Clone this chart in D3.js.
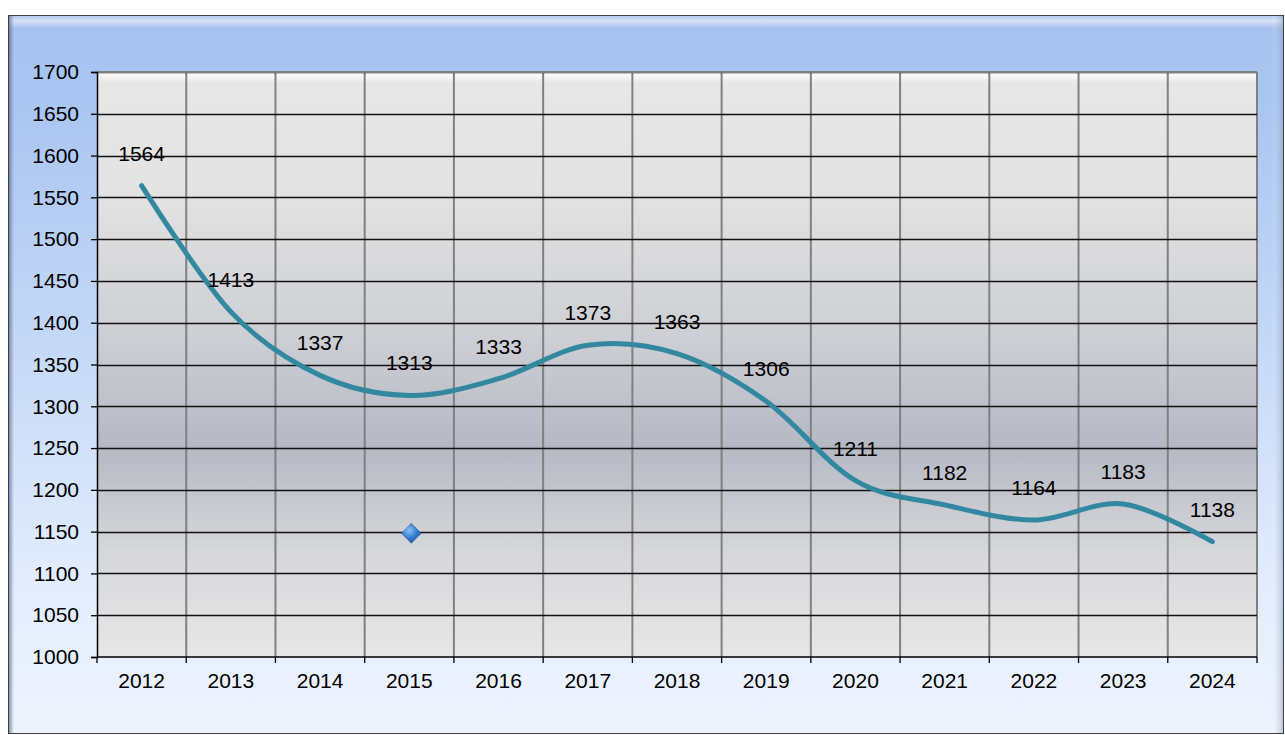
<!DOCTYPE html>
<html>
<head>
<meta charset="utf-8">
<script src="https://cdn.jsdelivr.net/npm/d3@7"></script>
<style>
  body { margin: 0; background: #ffffff; }
  svg text { font-family: "Liberation Sans", Arial, sans-serif; }
</style>
</head>
<body>
<svg id="chart" width="1285" height="735"></svg>
<script>
// données
let annees = ["2012", "2013", "2014", "2015", "2016", "2017", "2018", "2019", "2020", "2021", "2022", "2023", "2024"];
let valeurs = [1564, 1413, 1337, 1313, 1333, 1373, 1363, 1306, 1211, 1182, 1164, 1183, 1138];
let graduations = [1000, 1050, 1100, 1150, 1200, 1250, 1300, 1350, 1400, 1450, 1500, 1550, 1600, 1650, 1700];
// petit losange isolé (reste de légende)
let losange = { annee: "2015", valeur: 1148 };

let svg = d3.select("#chart");
let defs = svg.append("defs");

let zone = { gauche: 97, droite: 1257, haut: 72, bas: 657 };
let taillePolice = "21px";

// dégradé du cadre
let gradCadre = defs.append("linearGradient").attr("id", "gradCadre")
    .attr("x1", 0).attr("y1", 0).attr("x2", 0).attr("y2", 1);
[[0, "#a6c2ef"], [0.12, "#a9c5f1"], [0.45, "#c4d8f7"], [0.8, "#e3edfd"], [1, "#eef4fe"]]
    .forEach(s => gradCadre.append("stop").attr("offset", s[0]).attr("stop-color", s[1]));

let gradReflet = defs.append("linearGradient").attr("id", "gradReflet")
    .attr("x1", 0).attr("y1", 0).attr("x2", 0).attr("y2", 1);
gradReflet.append("stop").attr("offset", 0).attr("stop-color", "#ffffff").attr("stop-opacity", 0.15);
gradReflet.append("stop").attr("offset", 0.4).attr("stop-color", "#ffffff").attr("stop-opacity", 0.55);
gradReflet.append("stop").attr("offset", 1).attr("stop-color", "#ffffff").attr("stop-opacity", 0);

let gradBordG = defs.append("linearGradient").attr("id", "gradBordG")
    .attr("x1", 0).attr("y1", 0).attr("x2", 1).attr("y2", 0);
gradBordG.append("stop").attr("offset", 0).attr("stop-color", "#5a6a88").attr("stop-opacity", 0.7);
gradBordG.append("stop").attr("offset", 1).attr("stop-color", "#5a6a88").attr("stop-opacity", 0);

let gradBordD = defs.append("linearGradient").attr("id", "gradBordD")
    .attr("x1", 0).attr("y1", 0).attr("x2", 1).attr("y2", 0);
gradBordD.append("stop").attr("offset", 0).attr("stop-color", "#ffffff").attr("stop-opacity", 0);
gradBordD.append("stop").attr("offset", 1).attr("stop-color", "#7d8fb0").attr("stop-opacity", 0.45);

// dégradé de la zone de traçage
let gradZone = defs.append("linearGradient").attr("id", "gradZone")
    .attr("x1", 0).attr("y1", 0).attr("x2", 0).attr("y2", 1);
[[0, "#ffffff"], [0.008, "#f6f6f6"], [0.018, "#e7e7e7"], [0.2, "#e3e3e3"], [0.45, "#cdcfd4"],
 [0.64, "#b5b9c3"], [0.82, "#d6d7da"], [1, "#e7e7e7"]]
    .forEach(s => gradZone.append("stop").attr("offset", s[0]).attr("stop-color", s[1]));

let gradLosange = defs.append("radialGradient").attr("id", "gradLosange")
    .attr("cx", 0.4).attr("cy", 0.35).attr("r", 0.7);
gradLosange.append("stop").attr("offset", 0).attr("stop-color", "#8cc4f5");
gradLosange.append("stop").attr("offset", 0.5).attr("stop-color", "#3a82d2");
gradLosange.append("stop").attr("offset", 1).attr("stop-color", "#1d4f96");

// cadre
svg.append("rect")
    .attr("x", 8.5).attr("y", 15.5).attr("width", 1275).attr("height", 718)
    .attr("fill", "url(#gradCadre)")
    .attr("stroke", "#3c3f48").attr("stroke-width", 1);
svg.append("rect")
    .attr("x", 9).attr("y", 16).attr("width", 1274).attr("height", 12)
    .attr("fill", "url(#gradReflet)");
svg.append("rect")
    .attr("x", 9).attr("y", 16).attr("width", 5).attr("height", 717)
    .attr("fill", "url(#gradBordG)");
svg.append("rect")
    .attr("x", 1271).attr("y", 16).attr("width", 12).attr("height", 717)
    .attr("fill", "url(#gradBordD)");

// échelles
let x = d3.scaleBand().domain(annees).range([zone.gauche, zone.droite]).padding(0);
let y = d3.scaleLinear().domain([1000, 1700]).range([zone.bas, zone.haut]);

svg.append("rect")
    .attr("x", zone.gauche).attr("y", zone.haut)
    .attr("width", zone.droite - zone.gauche).attr("height", zone.bas - zone.haut)
    .attr("fill", "url(#gradZone)");

// lignes verticales (gris)
let bords = annees.map(a => x(a)).concat([zone.droite]);
svg.append("g").selectAll("line")
    .data(bords.slice(1))
    .join("line")
    .attr("x1", d => d).attr("x2", d => d)
    .attr("y1", zone.haut).attr("y2", zone.bas)
    .attr("stroke", "#808080").attr("stroke-width", 2);

// lignes horizontales (noir)
svg.append("g").selectAll("line")
    .data(graduations.slice(1))
    .join("line")
    .attr("x1", zone.gauche).attr("x2", zone.droite)
    .attr("y1", d => Math.round(y(d)) + 0.5).attr("y2", d => Math.round(y(d)) + 0.5)
    .attr("stroke", "#111111").attr("stroke-width", 1.5);

// bord haut de la zone
svg.append("line")
    .attr("x1", zone.gauche).attr("x2", zone.droite)
    .attr("y1", zone.haut).attr("y2", zone.haut)
    .attr("stroke", "#808080").attr("stroke-width", 2);

// axe vertical
let axeY = svg.append("g").attr("transform", `translate(${zone.gauche},0)`)
    .call(d3.axisLeft(y).tickValues(graduations).tickSize(6).tickPadding(12).tickFormat(d3.format("d")));
axeY.select(".domain").attr("stroke", "#000").attr("stroke-width", 1.5);
axeY.selectAll(".tick line").attr("stroke", "#000").attr("stroke-width", 1.3);
axeY.selectAll("text").attr("font-size", taillePolice).attr("fill", "#000")
    .attr("font-family", "'Liberation Sans', Arial, sans-serif");

// axe horizontal
let axeX = svg.append("g").attr("transform", `translate(0,${zone.bas})`);
axeX.append("line")
    .attr("x1", zone.gauche).attr("x2", zone.droite)
    .attr("y1", 0).attr("y2", 0)
    .attr("stroke", "#000").attr("stroke-width", 1.5);
axeX.selectAll(".tiret")
    .data(bords)
    .join("line")
    .attr("class", "tiret")
    .attr("x1", d => d).attr("x2", d => d)
    .attr("y1", 0).attr("y2", 6)
    .attr("stroke", "#000").attr("stroke-width", 1.3);
axeX.selectAll("text")
    .data(annees)
    .join("text")
    .attr("x", d => x(d) + x.bandwidth() / 2)
    .attr("y", 31)
    .attr("text-anchor", "middle")
    .attr("font-size", taillePolice)
    .attr("fill", "#000")
    .text(d => d);

// courbe lissée
let points = annees.map((a, i) => ({ annee: a, valeur: valeurs[i] }));
let ligne = d3.line()
    .x(d => x(d.annee) + x.bandwidth() / 2)
    .y(d => y(d.valeur))
    .curve(d3.curveCardinal.tension(0));

svg.append("path")
    .datum(points)
    .attr("d", ligne)
    .attr("fill", "none")
    .attr("stroke", "#3388a0")
    .attr("stroke-width", 5)
    .attr("stroke-linecap", "round")
    .attr("stroke-linejoin", "round");

// étiquettes de valeurs
svg.append("g").selectAll("text")
    .data(points)
    .join("text")
    .attr("x", d => x(d.annee) + x.bandwidth() / 2)
    .attr("y", d => y(d.valeur) - 25)
    .attr("text-anchor", "middle")
    .attr("font-size", taillePolice)
    .attr("fill", "#000")
    .text(d => d.valeur);

// losange
let lx = x(losange.annee) + x.bandwidth() / 2 + 2;
let ly = y(losange.valeur);
svg.append("path")
    .attr("d", `M${lx},${ly - 10} L${lx + 10},${ly} L${lx},${ly + 10} L${lx - 10},${ly} Z`)
    .attr("fill", "url(#gradLosange)")
    .attr("stroke", "#2a5d9c").attr("stroke-width", 0.8).attr("stroke-opacity", 0.6);
</script>
</body>
</html>
